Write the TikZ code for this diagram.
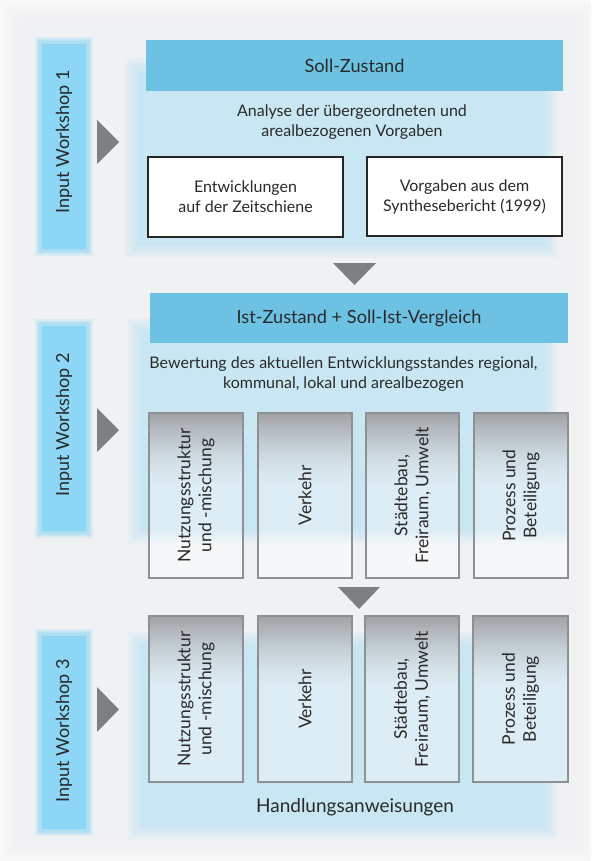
\documentclass[tikz,border=0pt]{standalone}
\usepackage{fontspec}
\setmainfont{Lato}
\definecolor{bgout}{HTML}{F8F8F9}
\definecolor{bgin}{HTML}{F0F1F3}
\definecolor{wsblue}{HTML}{8DD6F5}
\definecolor{panelblue}{HTML}{C9E6F3}
\definecolor{headblue}{HTML}{6DC2E3}
\definecolor{arrowgray}{HTML}{7E7F83}
\definecolor{framegray}{HTML}{8E9093}
\definecolor{shadegray}{HTML}{A0A2A5}
\definecolor{boxblue}{HTML}{DDEDF5}
\definecolor{boxwhite}{HTML}{F6F7F8}
\definecolor{txt}{HTML}{2A2A2A}
\newcommand\softrect[6]{%
  \foreach \k in {1,...,6}{%
    \fill[#1, fill opacity=0.22] ({#2-#6+\k*#6/3},{#3-#6+\k*#6/3}) rectangle ({#4+#6-\k*#6/3},{#5+#6-\k*#6/3});}%
  \fill[#1] ({#2+#6},{#3+#6}) rectangle ({#4-#6},{#5-#6});}
% interior of a category box: x1 y1 x2 y2 ywhite (start of white part)
\newcommand\catfill[5]{%
  \fill[boxblue] (#1,#2) rectangle (#3,#4);
  \foreach \j in {0,...,7}{%
    \pgfmathsetmacro\q{100*\j/7}%
    \fill[boxwhite!\q!boxblue] (#1,{#5-8+2*\j}) rectangle (#3,{#5-8+2*\j+2.5});}%
  \fill[boxwhite] (#1,{#5+7}) rectangle (#3,{max(#4,#5+7)});
  \foreach \i in {0,...,39}{%
    \pgfmathsetmacro\p{100*(1-\i/39)^1.7}%
    \fill[shadegray!\p!boxblue] (#1,{#2+2*\i}) rectangle (#3,{#2+2*\i+2.5});}}
\tikzset{
  bodytext/.style={font=\fontsize{16}{20}\selectfont, text=txt, align=center, inner sep=0pt},
  headbar/.style={fill=headblue, draw=none,
    font=\fontsize{18.2}{22}\selectfont, text=txt, inner sep=0pt},
  wslabel/.style={font=\fontsize{18}{22}\selectfont, text=txt, rotate=90, inner sep=0pt},
  topbox/.style={draw=black!85, line width=1.6pt, fill=white, align=center,
    font=\fontsize{16}{20}\selectfont, text=txt, inner sep=0pt},
  catbox/.style={draw=framegray, line width=1.6pt, inner sep=0pt, minimum width=94pt},
  cattext/.style={bodytext, font=\fontsize{17.5}{21}\selectfont, rotate=90},
  tri/.style={fill=arrowgray}
}
\begin{document}
\begin{tikzpicture}[x=1pt,y=-1pt]
\useasboundingbox (0,0) rectangle (591,861);
\fill[bgout] (0,0) rectangle (591,861);
\softrect{bgin}{12}{12}{585}{849}{10}
% workshop bars
\softrect{wsblue}{38}{40}{90}{253}{4}
\softrect{wsblue}{38}{322}{90}{535}{4}
\softrect{wsblue}{38}{632}{90}{833}{4}
% panels
\softrect{panelblue}{130}{63}{552}{253}{7}
\softrect{panelblue}{133}{323}{552}{538}{7}
\softrect{panelblue}{133}{637}{552}{834}{7}
% workshop labels
\node[wslabel] (w1) at (64,142) {Input Workshop 1};
\node[wslabel] (w2) at (64,425) {Input Workshop 2};
\node[wslabel] (w3) at (64,731) {Input Workshop 3};
% right triangles
\fill[tri] (97,120) -- (97,164) -- (119,142) -- cycle;
\fill[tri] (97,408) -- (97,452) -- (119,430) -- cycle;
\fill[tri] (97,687) -- (97,732) -- (119,709.5) -- cycle;
% section 1
\node[headbar, minimum width=417pt, minimum height=51pt] (h1) at (354.5,65.5) {Soll-Zustand};
\node[bodytext] (s1) at (352,122) {Analyse der übergeordneten und\\arealbezogenen Vorgaben};
\node[topbox, minimum width=195pt, minimum height=80pt] (b1) at (245.5,197) {Entwicklungen\\auf der Zeitschiene};
\node[topbox, minimum width=195pt, minimum height=79pt] (b2) at (464.5,196.5) {Vorgaben aus dem\\Synthesebericht (1999)};
\fill[tri] (333,263) -- (376,263) -- (354.5,285) -- cycle;
% section 2
\node[headbar, minimum width=418pt, minimum height=50pt] (h2) at (359,318) {Ist-Zustand + Soll-Ist-Vergleich};
\node[bodytext] (s2) at (343.5,374) {Bewertung des aktuellen Entwicklungsstandes regional,\\kommunal, lokal und arealbezogen};
\catfill{149}{413}{243}{578}{538}
\catfill{258}{413}{352}{578}{538}
\catfill{366}{413}{459}{578}{538}
\catfill{474}{413}{568}{578}{538}
\node[catbox, minimum height=165pt] (r1a) at (196,495.5) {};
\node[catbox, minimum height=165pt] (r1b) at (305,495.5) {};
\node[catbox, minimum height=165pt, minimum width=93pt] (r1c) at (412.5,495.5) {};
\node[catbox, minimum height=165pt] (r1d) at (521,495.5) {};
\node[cattext] (t1a) at (r1a.center) {Nutzungsstruktur\\und -mischung};
\node[cattext] (t1b) at (r1b.center) {Verkehr};
\node[cattext] (t1c) at (r1c.center) {Städtebau,\\Freiraum, Umwelt};
\node[cattext] (t1d) at (r1d.center) {Prozess und\\Beteiligung};
\fill[tri] (338,587) -- (380,587) -- (359,609) -- cycle;
% section 3
\catfill{149}{616}{243}{782}{900}
\catfill{258}{616}{352}{782}{900}
\catfill{365}{616}{459}{782}{900}
\catfill{473}{616}{568}{782}{900}
\node[catbox, minimum height=166pt] (r2a) at (196,699) {};
\node[catbox, minimum height=166pt] (r2b) at (305,699) {};
\node[catbox, minimum height=166pt] (r2c) at (412,699) {};
\node[catbox, minimum height=166pt, minimum width=95pt] (r2d) at (520.5,699) {};
\node[cattext] (t2a) at (r2a.center) {Nutzungsstruktur\\und -mischung};
\node[cattext] (t2b) at (r2b.center) {Verkehr};
\node[cattext] (t2c) at (r2c.center) {Städtebau,\\Freiraum, Umwelt};
\node[cattext] (t2d) at (r2d.center) {Prozess und\\Beteiligung};
\node[bodytext, font=\fontsize{19}{22}\selectfont] (ha) at (355,807) {Handlungsanweisungen};
\end{tikzpicture}
\end{document}
